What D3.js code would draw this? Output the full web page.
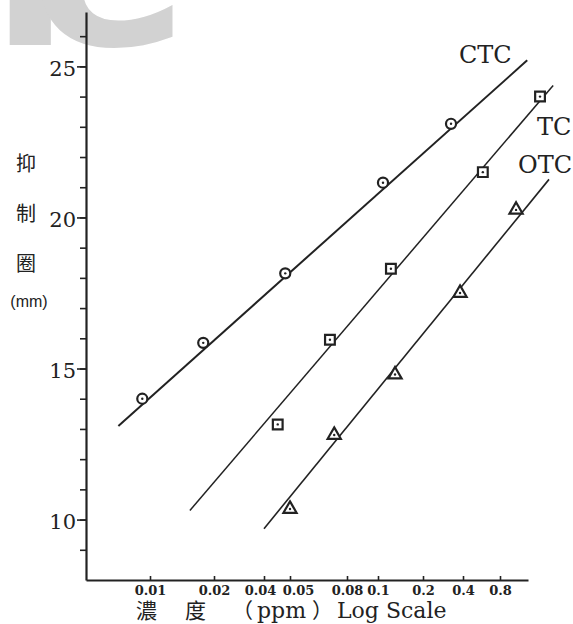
<!DOCTYPE html>
<html>
<head>
<meta charset="utf-8">
<script src="https://cdn.jsdelivr.net/npm/d3@7"></script>
<style>
    body { margin: 0; background: #fff; }
    .axis path, .axis line { stroke: #222; }
    .serif { font-family: "DejaVu Serif", serif; fill: #222; }
</style>
</head>
<body>
<div id="chart"></div>
<script>
// concentrations (ppm) and inhibition zone (mm)
let xTicks = [0.01, 0.02, 0.04, 0.05, 0.08, 0.1, 0.2, 0.4, 0.8];
let yLabels = [10, 15, 20, 25];
let yMinor = [9, 10, 11, 12, 13, 14, 15, 16, 17, 18, 19, 20, 21, 22, 23, 24, 25, 26];

let ctcConc = [0.0092, 0.0178, 0.048, 0.108, 0.325];
let ctcZone = [14.0, 15.85, 18.15, 21.15, 23.1];
let tcConc = [0.045, 0.0695, 0.122, 0.58, 1.69];
let tcZone = [13.15, 15.95, 18.3, 21.5, 24.0];
let otcConc = [0.05, 0.072, 0.13, 0.38, 1.08];
let otcZone = [10.35, 12.8, 14.8, 17.5, 20.25];

// fitted lines (start, end)
let ctcLineConc = [0.0071, 1.33];
let ctcLineZone = [13.1, 25.2];
let tcLineConc = [0.0154, 2.16];
let tcLineZone = [10.3, 24.37];
let otcLineConc = [0.04, 2.0];
let otcLineZone = [9.7, 21.26];

let width = 573, height = 624;

let svg = d3.select("#chart").append("svg")
    .attr("width", width)
    .attr("height", height);

// watermark remnant at top left
svg.append("text")
    .attr("x", -10)
    .attr("y", 45)
    .attr("font-family", "DejaVu Sans")
    .attr("font-weight", "bold")
    .attr("font-size", 235)
    .attr("letter-spacing", -40)
    .attr("fill", "#d2d2d2")
    .text("le");

// the printed log axis is hand spaced, so the scale is piecewise over the tick values
let xScale = d3.scaleLog()
    .domain([0.005].concat(xTicks, [1.35]))
    .range([86, 150, 214, 264, 290, 347, 378, 423, 463, 500, 528]);

let yScale = d3.scaleLinear()
    .domain([8, 26.8])
    .range([580, 12]);

// Y AXIS
let yMinorAxis = d3.axisLeft(yScale)
    .tickValues(yMinor)
    .tickSize(6)
    .tickSizeOuter(0);

svg.append("g")
    .attr("class", "axis")
    .attr("transform", "translate(86,0)")
    .call(yMinorAxis)
    .call(g => g.selectAll(".tick text").remove())
    .call(g => g.select(".domain").attr("stroke-width", 2.2))
    .call(g => g.selectAll(".tick line").attr("stroke-width", 1.6));

let yAxis = d3.axisLeft(yScale)
    .tickValues(yLabels)
    .tickSize(9)
    .tickPadding(1)
    .tickFormat(d3.format("d"));

svg.append("g")
    .attr("class", "axis")
    .attr("transform", "translate(86,0)")
    .call(yAxis)
    .call(g => g.select(".domain").remove())
    .call(g => g.selectAll(".tick line").attr("stroke-width", 1.6))
    .call(g => g.selectAll(".tick text")
        .attr("class", "serif")
        .attr("font-size", 21)
        .attr("dy", "0.42em"));

// X AXIS
let xAxis = d3.axisBottom(xScale)
    .tickValues(xTicks)
    .tickSize(-4)
    .tickSizeOuter(0)
    .tickPadding(6)
    .tickFormat(d => String(d));

svg.append("g")
    .attr("class", "axis")
    .attr("transform", "translate(0,580)")
    .call(xAxis)
    .call(g => g.select(".domain").attr("stroke-width", 2.2))
    .call(g => g.selectAll(".tick line").attr("stroke-width", 1.6))
    .call(g => g.selectAll(".tick text")
        .attr("class", "serif")
        .attr("font-size", 13)
        .attr("font-weight", "bold")
        // the two crowded labels are pushed apart like in the print
        .attr("dx", d => d === 0.04 ? -4 : d === 0.05 ? 8 : 0));

// axis titles
let yTitle = svg.append("g").attr("font-family", "Noto Sans CJK TC").attr("font-size", 20).attr("fill", "#222");
yTitle.append("text").attr("x", 26).attr("y", 171).attr("text-anchor", "middle").text("抑");
yTitle.append("text").attr("x", 26).attr("y", 221).attr("text-anchor", "middle").text("制");
yTitle.append("text").attr("x", 26).attr("y", 271).attr("text-anchor", "middle").text("圈");
svg.append("text")
    .attr("x", 29).attr("y", 307)
    .attr("text-anchor", "middle")
    .attr("font-family", "Liberation Sans")
    .attr("font-size", 16)
    .attr("fill", "#222")
    .text("(mm)");

let xTitle = svg.append("g").attr("font-size", 21).attr("fill", "#222");
xTitle.append("text").attr("x", 136).attr("y", 618).attr("font-family", "Noto Sans CJK TC").text("濃");
xTitle.append("text").attr("x", 185).attr("y", 618).attr("font-family", "Noto Sans CJK TC").text("度");
xTitle.append("text").attr("x", 232).attr("y", 618).attr("font-family", "Noto Sans CJK TC").text("（");
xTitle.append("text").attr("x", 257).attr("y", 618).attr("class", "serif").attr("font-size", 22).text("ppm");
xTitle.append("text").attr("x", 312).attr("y", 618).attr("font-family", "Noto Sans CJK TC").text("）");
xTitle.append("text").attr("x", 337).attr("y", 618).attr("class", "serif").attr("font-size", 22).text("Log Scale");

// FITTED LINES
let line = d3.line()
    .x(d => xScale(d[0]))
    .y(d => yScale(d[1]));

let fits = [
    {conc: ctcLineConc, zone: ctcLineZone, w: 2},
    {conc: tcLineConc, zone: tcLineZone, w: 1.5},
    {conc: otcLineConc, zone: otcLineZone, w: 1.6}
];

svg.selectAll(".fit")
    .data(fits)
    .enter().append("path")
    .attr("class", "fit")
    .attr("fill", "none")
    .attr("stroke", "#222")
    .attr("stroke-width", d => d.w)
    .attr("d", d => line(d3.zip(d.conc, d.zone)));

// POINTS
let series = [
    {conc: ctcConc, zone: ctcZone, shape: d3.symbolCircle, size: 80},
    {conc: tcConc, zone: tcZone, shape: d3.symbolSquare, size: 95},
    {conc: otcConc, zone: otcZone, shape: d3.symbolTriangle, size: 75}
];

series.forEach(s => {
    let pts = d3.zip(s.conc, s.zone);
    let g = svg.append("g");
    g.selectAll("path")
        .data(pts)
        .enter().append("path")
        .attr("transform", d => "translate(" + xScale(d[0]) + "," + yScale(d[1]) + ")")
        .attr("d", d3.symbol().type(s.shape).size(s.size))
        .attr("fill", "#fff")
        .attr("stroke", "#222")
        .attr("stroke-width", 2.2);
    g.selectAll("circle")
        .data(pts)
        .enter().append("circle")
        .attr("cx", d => xScale(d[0]))
        .attr("cy", d => yScale(d[1]))
        .attr("r", 1.2)
        .attr("fill", "#222");
});

// series labels
let labels = svg.append("g").attr("class", "serif").attr("font-size", 24);
labels.append("text").attr("x", 459).attr("y", 63).attr("class", "serif").text("CTC");
labels.append("text").attr("x", 537).attr("y", 135).attr("class", "serif").text("TC");
labels.append("text").attr("x", 518).attr("y", 173).attr("class", "serif").text("OTC");
</script>
</body>
</html>
